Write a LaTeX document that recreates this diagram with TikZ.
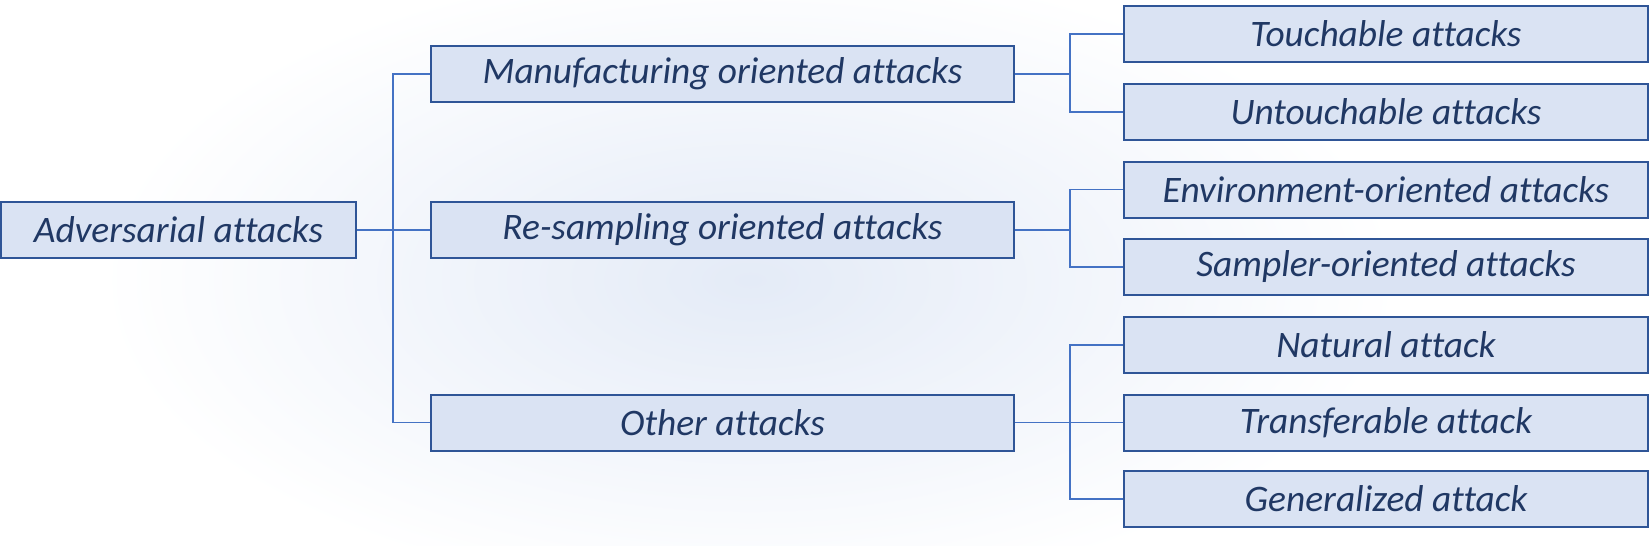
\documentclass[tikz,border=0pt]{standalone}
\usepackage{fontspec}
\setmainfont{Carlito}[Ligatures=CommonOff]
\definecolor{boxfill}{HTML}{DAE3F3}
\definecolor{boxline}{HTML}{2F5597}
\definecolor{txt}{HTML}{203864}
\definecolor{conn}{HTML}{4472C4}
\definecolor{bgblue}{HTML}{E4EBF7}
\begin{document}
\begin{tikzpicture}[x=0.5pt,y=-0.5pt,
  box/.style={draw=boxline,line width=1pt,fill=boxfill,text=txt,
    font=\fontsize{18.7}{22}\selectfont\itshape,inner sep=0pt,
    minimum height=28pt,anchor=center},
  rootbox/.style={box,minimum width=177.5pt},
  midbox/.style={box,minimum width=291.5pt},
  leafbox/.style={box,minimum width=262pt},
  link/.style={draw=conn,line width=0.75pt}]
\useasboundingbox (0,0) rectangle (1650,546);
\fill[white] (0,0) rectangle (1650,546);
\shade[inner color=bgblue,outer color=white] (100,-40) rectangle (1400,600);
\node[rootbox] (root) at (178.5,230) {Adversarial attacks};
\node[midbox] (m1) at (722.5,74) {Manufacturing oriented attacks};
\node[midbox] (m2) at (722.5,230) {Re-sampling oriented attacks};
\node[midbox] (m3) at (722.5,422.5) {Other attacks};
\node[leafbox] (l1) at (1386,34) {Touchable attacks};
\node[leafbox] (l2) at (1386,112) {Untouchable attacks};
\node[leafbox] (l3) at (1386,189.5) {Environment-oriented attacks};
\node[leafbox] (l4) at (1386,267) {Sampler-oriented attacks};
\node[leafbox] (l5) at (1386,345) {Natural attack};
\node[leafbox] (l6) at (1386,422.5) {Transferable attack};
\node[leafbox] (l7) at (1386,499) {Generalized attack};
\coordinate (t0) at (393,0);
\coordinate (t1) at (1070,0);
\path[link] (root.east) -- (t0 |- root.east);
\path[link] (m1.west) -- (t0 |- m1.west) -- (t0 |- m3.west) -- (m3.west);
\path[link] (m2.west) -- (t0 |- m2.west);
\path[link] (m1.east) -- (t1 |- m1.east);
\path[link] (l1.west) -- (t1 |- l1.west) -- (t1 |- l2.west) -- (l2.west);
\path[link] (m2.east) -- (t1 |- m2.east);
\path[link] (l3.west) -- (t1 |- l3.west) -- (t1 |- l4.west) -- (l4.west);
\path[link] (m3.east) -- (l6.west);
\path[link] (l5.west) -- (t1 |- l5.west) -- (t1 |- l7.west) -- (l7.west);
\end{tikzpicture}
\end{document}
